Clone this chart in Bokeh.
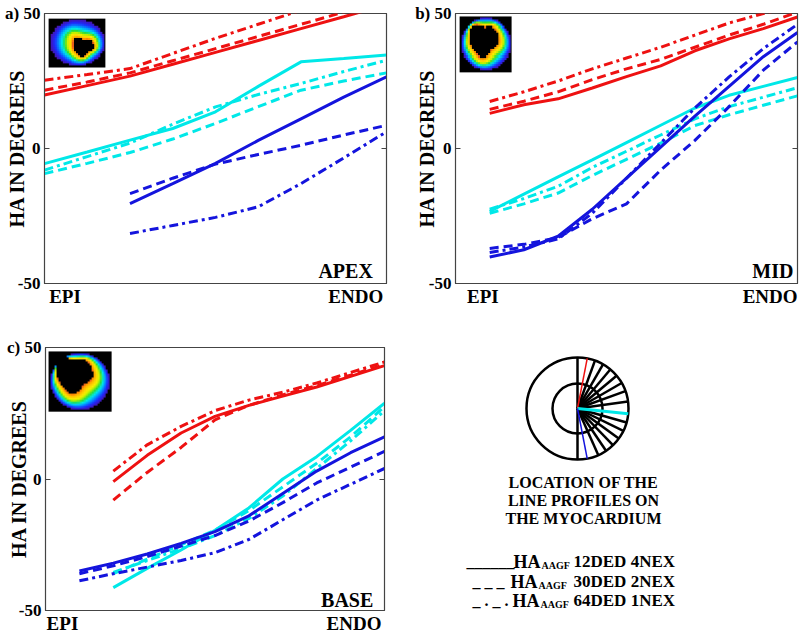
import numpy as np
from bokeh.plotting import figure
from bokeh.models import Range1d, FixedTicker, Label, LinearAxis
from bokeh.layouts import column, row
from bokeh.embed import file_html
from bokeh.resources import INLINE
from bokeh.core.properties import value

# ---------------- data (x = position across the wall, 0 = EPI, 100 = ENDO) ----------------
Y_TICKS = [-50, 0, 50]
X_TICK_LABELS = ["EPI", "ENDO"]

A_X = [0, 12.5, 25, 37.5, 50, 62.5, 75, 87.5, 100]
A_X_BLUE = [25, 37.5, 50, 62.5, 75, 87.5, 100]
A_RED_SOLID = [19.8, 23.3, 26.8, 31.2, 35.6, 40.0, 44.4, 48.8, 53.3]
A_RED_DASH = [21.6, 24.6, 28.0, 32.5, 37.0, 41.5, 46.0, 50.5, 55.0]
A_RED_DASHDOT = [25.3, 27.4, 29.6, 35.2, 40.8, 46.0, 51.2, 56.6, 62.0]
A_CYAN_SOLID = [-5.6, -1.3, 3.1, 7.4, 13.6, 23.0, 32.1, 33.3, 34.6]
A_CYAN_DASH = [-9.3, -5.5, -1.5, 3.5, 9.3, 15.5, 21.6, 25.0, 28.0]
A_CYAN_DASHDOT = [-8.0, -3.0, 2.0, 9.0, 15.4, 20.0, 24.1, 28.5, 32.7]
A_BLUE_SOLID = [-20.4, -13.0, -5.5, 3.0, 11.0, 19.0, 26.5]
A_BLUE_DASH = [-16.7, -11.0, -5.8, -2.2, 1.2, 5.0, 8.6]
A_BLUE_DASHDOT = [-31.5, -28.5, -25.5, -21.6, -13.0, -3.5, 6.2]

B_X = [10, 20, 30, 40, 50, 60, 70, 80, 90, 100]
B_RED_SOLID = [13.0, 16.2, 18.4, 22.4, 26.6, 30.6, 36.2, 40.6, 44.4, 48.7]
B_RED_DASH = [14.5, 17.5, 21.0, 25.5, 29.5, 33.0, 37.5, 42.0, 46.0, 50.5]
B_RED_DASHDOT = [17.4, 21.0, 25.0, 29.5, 33.5, 37.5, 42.0, 46.5, 50.0, 53.0]
B_CYAN_SOLID = [-23.3, -16.9, -10.5, -4.2, 2.2, 8.6, 15.0, 19.7, 23.0, 26.3]
B_CYAN_DASH = [-24.0, -20.5, -16.5, -10.0, -4.0, 2.0, 8.5, 12.5, 16.0, 19.5]
B_CYAN_DASHDOT = [-22.5, -18.5, -14.0, -7.0, -1.0, 5.0, 11.0, 15.5, 19.0, 22.5]
B_BLUE_SOLID = [-40.2, -37.5, -32.5, -22.5, -11.0, 0.5, 12.0, 23.0, 34.0, 43.0]
B_BLUE_DASH = [-37.0, -35.5, -33.0, -26.0, -20.5, -8.0, 3.0, 15.5, 29.0, 39.5]
B_BLUE_DASHDOT = [-38.5, -36.5, -33.5, -24.0, -11.0, 2.0, 15.0, 26.5, 37.0, 46.0]

C_X = [20, 30, 40, 50, 60, 70, 80, 90, 100]
C_X_BLUE = [10, 20, 30, 40, 50, 60, 70, 80, 90, 100]
C_RED_SOLID = [-1.0, 9.0, 17.5, 23.8, 28.0, 31.5, 35.0, 39.0, 43.1]
C_RED_DASH = [-8.0, 2.5, 12.0, 22.5, 28.0, 32.0, 35.5, 39.5, 43.5]
C_RED_DASHDOT = [3.0, 13.0, 20.0, 26.0, 30.0, 33.0, 36.5, 40.5, 44.5]
C_CYAN_SOLID = [-41.3, -34.0, -27.0, -19.5, -11.0, 0.0, 8.5, 18.5, 28.8]
C_CYAN_DASH = [-36.0, -30.5, -25.0, -19.5, -12.0, -3.0, 6.0, 16.0, 27.5]
C_CYAN_DASHDOT = [-35.5, -31.0, -26.5, -21.5, -15.0, -6.5, 4.0, 14.5, 26.0]
C_BLUE_SOLID = [-35.0, -32.0, -28.5, -24.5, -20.0, -14.0, -5.5, 3.0, 10.0, 16.0]
C_BLUE_DASH = [-36.0, -33.0, -29.5, -25.5, -21.5, -16.0, -9.0, -1.5, 4.5, 10.5]
C_BLUE_DASHDOT = [-38.7, -36.0, -33.5, -31.0, -28.0, -23.0, -15.5, -8.0, -2.0, 4.0]

PANEL_LETTERS = ["a)", "b)", "c)"]
PANEL_NAMES = ["APEX", "MID", "BASE"]

# schematic of the line-profile locations (angles in degrees)
PROFILE_ANGLES_BLACK = [70, 60, 50, 40, 30, 20, 8, -16, -26, -36, -46, -56, -66]
PROFILE_ANGLES_COLOR = [79, -6, -79]
PROFILE_COLORS = ["#ee1111", "#00e8e8", "#1414dd"]
CAPTION = ["LOCATION OF THE", "LINE PROFILES ON", "THE MYOCARDIUM"]
LEGEND_SAMPLES = ["______", "_ _ _", "_ . _ ."]
LEGEND_MAIN = ["HA", "HA", "HA"]
LEGEND_SUB = ["AAGF", "AAGF", "AAGF"]
LEGEND_TEXT = ["12DED 4NEX", "30DED 2NEX", "64DED 1NEX"]

# ---------------- styles ----------------
RED, CYAN, BLUE = "#ee1111", "#00e8e8", "#1414dd"
DASH = {"solid": "solid", "dash": "9 5", "dashdot": "9 4 3 4"}
LW = 3
FONT = "Liberation Serif"
FRAME = "#444444"


def heart_image(nx, ny, outer_c, outer_r, inner_c, inner_r):
    """Decorative colour-coded short-axis slice (inset picture)."""
    stops = np.array([0.0, 0.08, 0.18, 0.26, 0.36, 0.46, 0.56, 0.75, 0.92, 1.0])
    cols = np.array([[70, 20, 170], [30, 40, 255], [0, 160, 255], [0, 235, 235],
                     [40, 220, 60], [180, 240, 0], [250, 240, 0], [255, 195, 0],
                     [255, 145, 0], [230, 90, 30]], float)
    yy, xx = np.mgrid[0:ny, 0:nx]
    u = (xx + 0.5) / nx
    v = (yy + 0.5) / ny
    do = np.sqrt(((u - outer_c[0]) / outer_r[0]) ** 2 + ((v - outer_c[1]) / outer_r[1]) ** 2)
    ang = np.arctan2(v - inner_c[1], u - inner_c[0])
    ri = inner_r * (1 + 0.12 * np.cos(3 * ang + 1.0) + 0.06 * np.sin(5 * ang))
    di = np.sqrt((u - inner_c[0]) ** 2 + (v - inner_c[1]) ** 2) / ri
    ring = (do < 1) & (di > 1)
    t = np.zeros_like(u)
    a = np.clip(1 - do, 0, None)
    b = np.clip(di - 1, 0, None)
    t[ring] = a[ring] / (a[ring] + b[ring] + 1e-9)
    img = np.zeros((ny, nx, 4), dtype=np.uint8)
    img[..., 3] = 255
    for k in range(3):
        ch = np.interp(t, stops, cols[:, k])
        img[..., k] = np.where(ring, ch, 0).astype(np.uint8)
    img = np.flipud(img)  # first row is the bottom in Bokeh
    return img.view(dtype=np.uint32).reshape((ny, nx))


def make_panel(width, height, borders, letter, name, name_xy, tick_x, series, inset):
    left, right, top, bottom = borders
    p = figure(width=width, height=height, x_range=Range1d(0, 100), y_range=Range1d(-50, 50),
               output_backend="svg", toolbar_location=None,
               min_border_left=left, min_border_right=right,
               min_border_top=top, min_border_bottom=bottom)
    p.xgrid.visible = False
    p.ygrid.visible = False
    p.outline_line_color = FRAME
    p.outline_line_width = 1.2
    p.background_fill_color = "white"

    ya = p.yaxis[0]
    ya.ticker = FixedTicker(ticks=Y_TICKS)
    ya.major_label_overrides = {50: f"{letter} 50", 0: "0", -50: "-50"}
    ya.major_label_text_font = FONT
    ya.major_label_text_font_style = "bold"
    ya.major_label_text_font_size = "17px"
    ya.major_label_text_color = "black"
    ya.major_label_standoff = 4
    ya.major_tick_in = 5
    ya.major_tick_out = 0
    ya.minor_tick_line_color = None
    ya.axis_line_color = FRAME
    ya.major_tick_line_color = FRAME
    ya.axis_label = "HA IN DEGREES"
    ya.axis_label_text_font = FONT
    ya.axis_label_text_font_style = "bold"
    ya.axis_label_text_font_size = "20px"
    ya.axis_label_text_color = "black"
    ya.axis_label_standoff = -26

    # inward ticks on the right edge of the box, no labels
    ra = LinearAxis(ticker=FixedTicker(ticks=Y_TICKS), major_tick_in=5, major_tick_out=0,
                    major_label_text_color=None, major_label_text_font_size="1px",
                    major_label_standoff=0, minor_tick_line_color=None,
                    axis_line_color=FRAME, major_tick_line_color=FRAME)
    p.add_layout(ra, "right")

    xa = p.xaxis[0]
    xa.ticker = FixedTicker(ticks=tick_x)
    xa.major_label_overrides = {tick_x[0]: X_TICK_LABELS[0], tick_x[1]: X_TICK_LABELS[1]}
    xa.major_label_text_font = FONT
    xa.major_label_text_font_style = "bold"
    xa.major_label_text_font_size = "19px"
    xa.major_label_text_color = "black"
    xa.major_label_standoff = 2
    xa.major_tick_in = 0
    xa.major_tick_out = 0
    xa.minor_tick_line_color = None
    xa.axis_line_color = FRAME

    img, ix, iy, idw, idh = inset
    p.image_rgba(image=[img], x=ix, y=iy, dw=idw, dh=idh)

    for xs, ys, color, dash in series:
        p.line(xs, ys, line_color=color, line_width=LW, line_dash=DASH[dash])

    p.add_layout(Label(x=name_xy[0], y=name_xy[1], text=name, text_align="right",
                       text_baseline="alphabetic", text_font=FONT, text_font_style="bold",
                       text_font_size="20px", text_color="black"))
    return p


series_a = [
    (A_X, A_RED_SOLID, RED, "solid"), (A_X, A_RED_DASH, RED, "dash"), (A_X, A_RED_DASHDOT, RED, "dashdot"),
    (A_X, A_CYAN_SOLID, CYAN, "solid"), (A_X, A_CYAN_DASH, CYAN, "dash"), (A_X, A_CYAN_DASHDOT, CYAN, "dashdot"),
    (A_X_BLUE, A_BLUE_SOLID, BLUE, "solid"), (A_X_BLUE, A_BLUE_DASH, BLUE, "dash"),
    (A_X_BLUE, A_BLUE_DASHDOT, BLUE, "dashdot"),
]
series_b = [
    (B_X, B_RED_SOLID, RED, "solid"), (B_X, B_RED_DASH, RED, "dash"), (B_X, B_RED_DASHDOT, RED, "dashdot"),
    (B_X, B_CYAN_SOLID, CYAN, "solid"), (B_X, B_CYAN_DASH, CYAN, "dash"), (B_X, B_CYAN_DASHDOT, CYAN, "dashdot"),
    (B_X, B_BLUE_SOLID, BLUE, "solid"), (B_X, B_BLUE_DASH, BLUE, "dash"), (B_X, B_BLUE_DASHDOT, BLUE, "dashdot"),
]
series_c = [
    (C_X, C_RED_SOLID, RED, "solid"), (C_X, C_RED_DASH, RED, "dash"), (C_X, C_RED_DASHDOT, RED, "dashdot"),
    (C_X, C_CYAN_SOLID, CYAN, "solid"), (C_X, C_CYAN_DASH, CYAN, "dash"), (C_X, C_CYAN_DASHDOT, CYAN, "dashdot"),
    (C_X_BLUE, C_BLUE_SOLID, BLUE, "solid"), (C_X_BLUE, C_BLUE_DASH, BLUE, "dash"),
    (C_X_BLUE, C_BLUE_DASHDOT, BLUE, "dashdot"),
]

img_a = heart_image(29, 25, (0.5, 0.5), (0.48, 0.47), (0.6, 0.58), 0.18)
img_b = heart_image(26, 27, (0.5, 0.5), (0.47, 0.46), (0.45, 0.43), 0.27)
img_c = heart_image(31, 30, (0.5, 0.5), (0.47, 0.47), (0.4, 0.38), 0.28)

pa = make_panel(400, 316, (44, 14, 13, 33), PANEL_LETTERS[0], PANEL_NAMES[0], (96, -45.5),
                [6, 91], series_a, (img_a, 1.2, 30.0, 16.6, 18.1))
pb = make_panel(400, 316, (55, 3, 13, 33), PANEL_LETTERS[1], PANEL_NAMES[1], (98.8, -45.5),
                [8, 92], series_b, (img_b, 1.2, 28.2, 15.2, 20.7))
pc = make_panel(400, 320, (45, 16, 31, 26), PANEL_LETTERS[2], PANEL_NAMES[2], (96.7, -46),
                [5, 91], series_c, (img_c, 0.9, 25.6, 18.6, 22.9))

# ---------------- schematic + legend panel (coordinates in local pixels) ----------------
D_LEFT, D_RIGHT, D_TOP, D_BOTTOM = 55, 3, 31, 26
pd = figure(width=400, height=320, x_range=Range1d(D_LEFT, 400 - D_RIGHT),
            y_range=Range1d(320 - D_BOTTOM, D_TOP),
            output_backend="svg", toolbar_location=None, x_axis_location=None,
            y_axis_location=None, min_border_left=D_LEFT, min_border_right=D_RIGHT,
            min_border_top=D_TOP, min_border_bottom=D_BOTTOM)
pd.xgrid.visible = False
pd.ygrid.visible = False
pd.outline_line_color = None

CX, CY, R_OUT, R_IN = 177, 92, 51, 25
ab = np.radians(PROFILE_ANGLES_BLACK)
pd.segment(x0=[CX] * len(ab), y0=[CY] * len(ab),
           x1=list(CX + R_OUT * np.cos(ab)), y1=list(CY - R_OUT * np.sin(ab)),
           line_color="black", line_width=2.5)
pd.segment(x0=[CX], y0=[CY - R_OUT], x1=[CX], y1=[CY + R_OUT], line_color="black", line_width=2.5)
pd.circle(x=[CX, CX], y=[CY, CY], radius=[R_OUT, R_IN], fill_color=None,
          line_color="black", line_width=2.5)
ac = np.radians(PROFILE_ANGLES_COLOR)
pd.segment(x0=[CX] * len(ac), y0=[CY] * len(ac),
           x1=list(CX + R_OUT * np.cos(ac)), y1=list(CY - R_OUT * np.sin(ac)),
           line_color=PROFILE_COLORS, line_width=[1.5, 3, 1.5])

pd.text(x=[183, 183, 183], y=[166, 184, 202], text=CAPTION, text_font=value(FONT),
        text_font_style="bold", text_font_size="16px", text_align="center",
        text_baseline="alphabetic", text_color="black")

LEG_Y = [245, 265, 284]
pd.text(x=[66, 72, 72], y=LEG_Y, text=LEGEND_SAMPLES, text_font=value(FONT),
        text_font_style="bold", text_font_size="16px", text_align="left",
        text_baseline="alphabetic", text_color="black")
pd.text(x=[113, 110, 112], y=LEG_Y, text=LEGEND_MAIN, text_font=value(FONT),
        text_font_style="bold", text_font_size="18px", text_align="left",
        text_baseline="alphabetic", text_color="black")
pd.text(x=[141, 138, 140], y=[y + 4 for y in LEG_Y], text=LEGEND_SUB, text_font=value(FONT),
        text_font_style="bold", text_font_size="10px", text_align="left",
        text_baseline="alphabetic", text_color="black")
pd.text(x=[173, 173, 173], y=LEG_Y, text=LEGEND_TEXT, text_font=value(FONT),
        text_font_style="bold", text_font_size="17px", text_align="left",
        text_baseline="alphabetic", text_color="black")

layout = column(row(pa, pb), row(pc, pd))
open("out.html", "w").write(file_html(layout, INLINE))
